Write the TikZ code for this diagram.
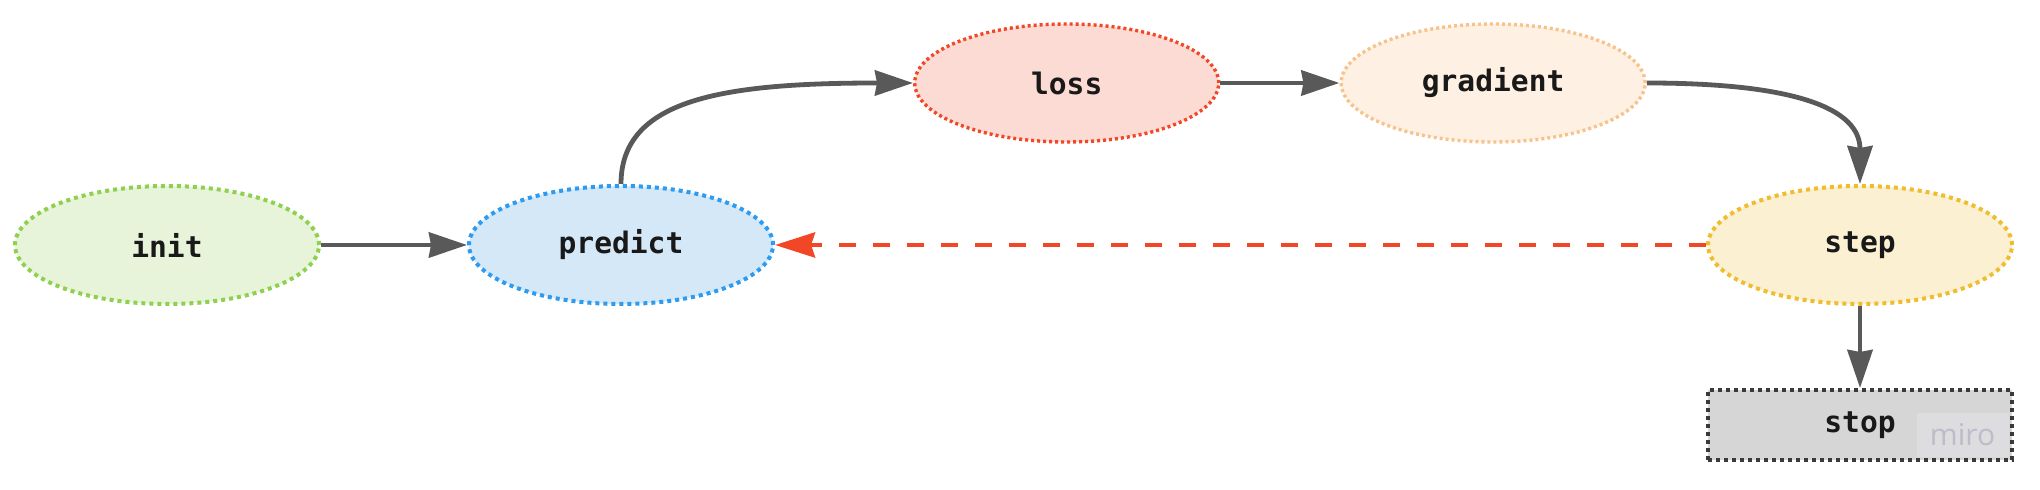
\documentclass[tikz,border=0pt]{standalone}
\usepackage{fontspec}
\setmonofont{DejaVu Sans Mono}
\newfontfamily\miroface{Open Sans}
\usepackage{tikz}
\usetikzlibrary{arrows.meta, positioning, shapes.geometric}

\definecolor{initfill}{HTML}{E7F4DA}
\definecolor{initline}{HTML}{8FD14F}
\definecolor{predfill}{HTML}{D5E8F8}
\definecolor{predline}{HTML}{2D9BF0}
\definecolor{lossfill}{HTML}{FDDBD5}
\definecolor{lossline}{HTML}{F24726}
\definecolor{gradfill}{HTML}{FEF0E2}
\definecolor{gradline}{HTML}{F8C28C}
\definecolor{stepfill}{HTML}{FCF0D2}
\definecolor{stepline}{HTML}{EFBD2E}
\definecolor{stopfill}{HTML}{D6D6D6}
\definecolor{stopline}{HTML}{3A3A3A}
\definecolor{flowgray}{HTML}{595959}
\definecolor{mirobox}{HTML}{DDDDDF}
\definecolor{mirotext}{HTML}{BCBCCA}

\tikzset{
  stage/.style={ellipse, inner sep=0pt, minimum width=152pt, minimum height=59pt,
    line width=2pt, dash pattern=on 2pt off 2pt, text=black!90,
    font=\ttfamily\bfseries\fontsize{14.8}{18}\selectfont},
  thin stage/.style={stage, line width=1.7pt, dash pattern=on 1.5pt off 1.5pt},
  flow/.style={->, >={Stealth[length=19pt, width=12.5pt, inset=1pt]}, line width=2.4pt, draw=flowgray},
  back/.style={->, >={Stealth[length=20pt, width=12.5pt, inset=2pt]}, line width=2.2pt, draw=lossline, dash pattern=on 8.5pt off 8.5pt}
}

\begin{document}
\begin{tikzpicture}[x=0.5pt, y=-0.5pt, node distance=73pt]
\useasboundingbox (0,0) rectangle (2040,490);

\node[stage, fill=initfill, draw=initline] (init) at (167,245) {init};
\node[stage, fill=predfill, draw=predline] (predict) [right=of init] {predict};
\node[thin stage, fill=lossfill, draw=lossline] (loss) [right=69pt of predict, yshift=81pt] {loss};
\node[thin stage, fill=gradfill, draw=gradline] (gradient) [right=59.5pt of loss] {gradient};
\node[stage, fill=stepfill, draw=stepline] (step) [right=465.5pt of predict] {step};
\node[rectangle, minimum width=152pt, minimum height=35pt, fill=stopfill, draw=stopline,
  line width=2pt, dash pattern=on 2pt off 2pt, text=black!90,
  font=\ttfamily\bfseries\fontsize{14.8}{18}\selectfont] (stop) [below=41pt of step] {stop};
\node[anchor=south east, fill=mirobox, minimum width=46pt, minimum height=22pt, inner sep=0pt,
  text=mirotext, font=\miroface\fontsize{15}{16}\selectfont]
  (miro) at ([xshift=-2.5pt, yshift=2.5pt]stop.south east) {miro};

\draw[flow] (init) -- (predict);
\draw[flow] (predict.north) .. controls +(0,-85) and +(-190,0) .. (loss.west);
\draw[flow] (loss) -- (gradient);
\draw[flow] (gradient.east) .. controls +(150,0) and +(0,-75) .. (step.north);
\draw[flow] (step) -- (stop);
\draw[back] (step.west) -- (predict.east);
%
\end{tikzpicture}
\end{document}
